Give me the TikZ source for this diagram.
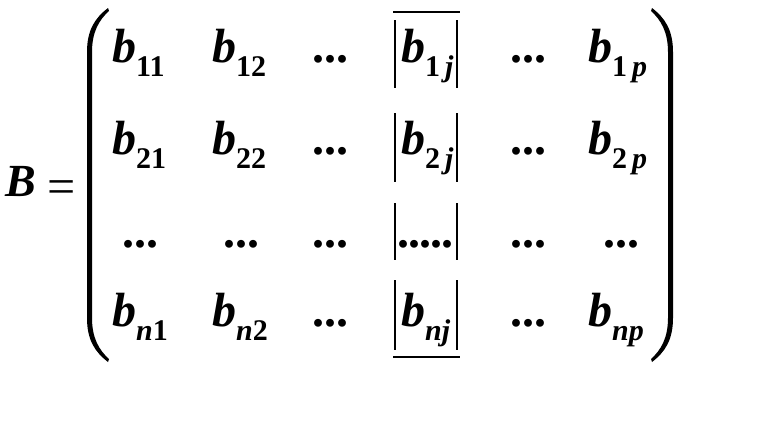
\documentclass[tikz,border=0pt]{standalone}
\usepackage{fontspec}
\setmainfont{Liberation Serif}
\newcommand{\bsub}[1]{\textit{b}\raisebox{-14pt}{\fontsize{30}{30}\selectfont #1}}
\begin{document}
\begin{tikzpicture}[x=1pt, y=-1pt, line join=round,
	every node/.style={inner sep=0pt, font=\fontsize{48}{48}\selectfont\bfseries},
	el/.style={anchor=base west},
	bar/.style={line width=2pt}]
	\useasboundingbox (0,0) rectangle (779,423);
	\node[el, font=\fontsize{46}{46}\selectfont\bfseries] (B) at (5,196) {\textit{B}};
	\node[el, font=\fontsize{50}{50}\selectfont] (eq) at (47,203) {=};
	% rows with letters
	\foreach \r/\s/\g/\y in {1/1/{\,}/62, 2/2/{\,}/154, n/{\textit{n}}/{}/326}{
		\node[el] (b\r1) at (112,\y) {\bsub{\s 1}};
		\node[el] (b\r2) at (212,\y) {\bsub{\s 2}};
		\node[el] (d\r3) at (312,\y) {...};
		\node[el] (b\r j) at (401,\y) {\bsub{\s\g\textit{j}}};
		\node[el] (d\r5) at (510,\y) {...};
		\node[el] (b\r p) at (588,\y) {\bsub{\s\g\textit{p}}};
	}
	% row of dots
	\node[el] (d31) at (122,247) {...};
	\node[el] (d32) at (223,247) {...};
	\node[el] (d33) at (312,247) {...};
	\node[el] (d3j) at (397,247) {.\kern-1pt.\kern-1pt.\kern-1pt.\kern-1pt.};
	\node[el] (d35) at (510,247) {...};
	\node[el] (d3p) at (603,247) {...};
	% box round column j
	\draw[bar] (393,12) -- (460,12) (393,357) -- (460,357);
	\foreach \a/\b in {20/88, 113/182, 203/260, 280/350}
		\draw[bar] (395,\a) -- (395,\b) (457,\a) -- (457,\b);
	% parentheses
	\fill (108,8) .. controls (95,18) and (87,30) .. (87,52) -- (87,318)
		.. controls (87,340) and (95,352) .. (108,362) -- (109,359)
		.. controls (99,350) and (92,338) .. (92,318) -- (92,52)
		.. controls (92,32) and (99,20) .. (109,11) -- cycle;
	\fill (652,8) .. controls (665,18) and (673,30) .. (673,52) -- (673,318)
		.. controls (673,340) and (665,352) .. (652,362) -- (651,359)
		.. controls (661,350) and (668,338) .. (668,318) -- (668,52)
		.. controls (668,32) and (661,20) .. (651,11) -- cycle;
\end{tikzpicture}
\end{document}
